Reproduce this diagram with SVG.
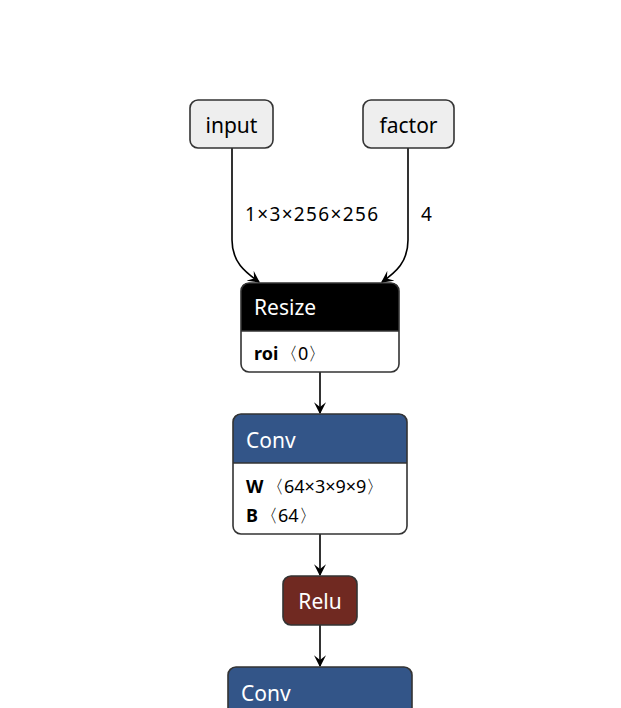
<svg xmlns="http://www.w3.org/2000/svg" width="621" height="708" viewBox="0 0 621 708">
<defs>
<marker id="arr" viewBox="0 0 10 10" refX="9" refY="5" markerWidth="12" markerHeight="12" markerUnits="userSpaceOnUse" orient="auto">
<path d="M 0 0 L 10 5 L 0 10 L 4 5 z" fill="#000"/>
</marker>
</defs>
<style>
text{font-family:"Noto Sans","Open Sans","DejaVu Sans",sans-serif}
.box{stroke:#333;stroke-width:1.6}
.t{font-size:21px}
.w{fill:#fff}
.a{font-size:18px;fill:#000}
.b{font-weight:bold}
.e{fill:none;stroke:#000;stroke-width:1.6;marker-end:url(#arr)}
.lbl{font-size:19px;fill:#000}
</style>
<rect width="621" height="708" fill="#fff"/>
<g id="connectors">
<path class="e" d="M232 148 L232 240 C232 262 245 272 259 282"/>
<path class="e" d="M408 148 L408 240 C408 262 396 272 382 282"/>
<path class="e" d="M320 372 L320 413"/>
<path class="e" d="M320 534 L320 575"/>
<path class="e" d="M320 625 L320 666"/>
<text class="lbl" x="245" y="221" textLength="133" lengthAdjust="spacing">1×3×256×256</text>
<text class="lbl" x="421" y="221">4</text>
</g>
<g id="input">
<rect class="box" x="190" y="100" width="83" height="48" rx="8" fill="#eee"/>
<text class="t" x="231.5" y="133" text-anchor="middle" fill="#000">input</text>
</g>
<g id="factor">
<rect class="box" x="363" y="100" width="91" height="48" rx="8" fill="#eee"/>
<text class="t" x="408.5" y="133" text-anchor="middle" fill="#000">factor</text>
</g>
<g id="resize">
<rect x="241" y="283" width="158" height="89" rx="8" fill="#fff"/>
<path d="M241 331 L241 291 Q241 283 249 283 L391 283 Q399 283 399 291 L399 331 Z" fill="#000"/>
<rect class="box" x="241" y="283" width="158" height="89" rx="8" fill="none"/>
<line x1="241" y1="331" x2="399" y2="331" stroke="#333" stroke-width="1.6"/>
<text class="t w" x="254" y="315">Resize</text>
<text class="a" x="254" y="360"><tspan class="b">roi</tspan><tspan x="280">〈0〉</tspan></text>
</g>
<g id="conv1">
<rect x="233" y="414" width="174" height="120" rx="8" fill="#fff"/>
<path d="M233 463 L233 422 Q233 414 241 414 L399 414 Q407 414 407 422 L407 463 Z" fill="#335588"/>
<rect class="box" x="233" y="414" width="174" height="120" rx="8" fill="none"/>
<line x1="233" y1="463" x2="407" y2="463" stroke="#333" stroke-width="1.6"/>
<text class="t w" x="246" y="448">Conv</text>
<text class="a" x="246" y="493"><tspan class="b">W</tspan><tspan x="266">〈64×3×9×9〉</tspan></text>
<text class="a" x="246" y="522"><tspan class="b">B</tspan><tspan x="260">〈64〉</tspan></text>
</g>
<g id="relu">
<rect class="box" x="283" y="576" width="74" height="49" rx="8" fill="#702921"/>
<text class="t w" x="320" y="609" text-anchor="middle">Relu</text>
</g>
<g id="conv2">
<rect class="box" x="228" y="667" width="184" height="60" rx="8" fill="#335588"/>
<text class="t w" x="241" y="701">Conv</text>
</g>
</svg>
